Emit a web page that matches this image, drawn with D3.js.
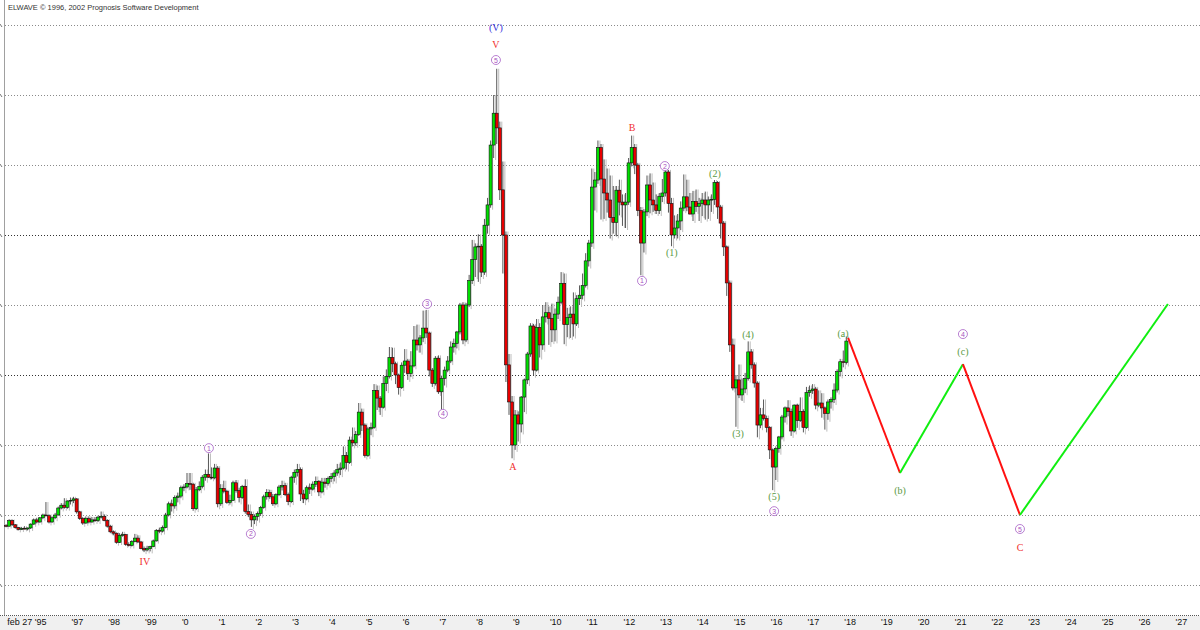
<!DOCTYPE html>
<html><head><meta charset="utf-8">
<script src="https://cdn.jsdelivr.net/npm/d3@7"></script>
<style>body{margin:0;background:#fff}svg{display:block}</style>
</head><body>
<svg id="c" width="1200" height="630"></svg>
<script>
// first candle: March 1995, monthly bars to January 2018
const firstYear = 1995, firstMonthIndex = 2;
const opens = [
17.0,16.8,18.4,17.2,16.4,15.9,16.2,16.0,16.3,17.4,
18.6,18.0,19.2,20.0,19.8,18.0,19.2,20.0,22.0,22.8,22.2,24.0,
24.2,24.6,20.9,19.0,17.7,19.0,18.0,18.6,18.4,19.4,19.6,18.4,
16.8,15.2,14.8,12.2,14.2,14.4,11.6,11.3,12.4,13.4,12.3,10.4,
10.0,10.4,11.0,12.6,15.6,15.4,16.4,20.0,23.2,22.6,25.0,25.4,
27.8,28.0,29.0,28.8,21.8,27.2,28.2,30.8,31.6,30.8,30.6,33.4,
23.2,27.6,26.8,23.6,24.2,29.2,27.0,25.0,28.2,21.0,20.2,18.6,
19.6,20.4,22.2,25.2,26.4,25.2,23.2,25.8,28.0,28.4,25.8,23.8,
30.8,32.2,33.0,26.0,24.6,27.8,27.4,28.8,29.6,26.6,29.4,29.0,
30.4,31.0,32.0,33.0,33.4,37.0,35.0,41.4,40.6,43.0,49.4,45.7,
37.0,44.6,45.0,55.6,53.4,50.8,57.6,59.6,65.0,63.2,60.0,56.4,
62.8,64.0,60.4,62.6,70.0,68.6,70.6,73.4,72.0,61.4,57.6,64.8,
55.2,59.0,61.4,64.0,68.0,69.0,72.3,80.0,70.0,80.0,87.0,93.0,
96.6,96.8,89.4,102.8,108.6,125.7,134.8,130.6,112.9,100.0,62.9,52.3,
40.0,48.6,46.0,53.7,58.6,66.0,74.0,61.4,73.6,68.6,76.6,77.8,
76.2,72.9,77.4,80.8,86.2,74.4,76.4,77.4,74.6,81.8,82.8,85.6,
92.6,97.7,113.7,115.7,125.0,116.0,112.0,110.0,105.0,103.6,112.8,109.4,
108.6,109.4,120.6,125.0,120.0,107.0,97.7,106.6,114.3,110.0,108.6,107.0,
111.0,112.0,118.0,109.0,100.0,102.0,104.0,107.7,110.9,108.0,106.0,109.6,
108.2,109.0,110.0,108.6,110.0,110.2,115.0,108.0,103.4,96.6,86.3,68.6,
56.3,58.6,54.3,56.0,59.0,66.6,62.9,57.7,45.7,48.6,47.6,45.0,
38.6,33.7,39.0,42.3,48.0,50.6,49.6,44.0,51.4,47.0,49.6,45.0,
55.0,55.6,56.0,51.4,52.0,50.6,49.0,52.3,53.0,55.7,61.0,63.8,
63.6];
const highs = [
17.4,18.8,18.7,17.4,16.6,16.6,16.8,16.4,17.6,19.0,
19.2,19.4,20.4,23.7,20.2,19.6,20.6,22.4,23.4,24.8,24.2,25.0,
25.2,24.8,21.2,19.4,19.6,19.6,19.4,19.4,19.8,21.0,20.2,18.8,
17.2,15.6,15.0,14.8,15.2,14.6,12.2,12.8,14.6,14.2,12.6,11.0,
11.2,11.2,13.0,16.0,16.4,17.0,20.6,23.8,24.4,25.6,26.4,28.4,
28.8,32.0,32.0,29.2,28.0,29.6,31.4,33.0,37.6,33.6,34.6,34.0,
28.8,29.8,27.2,25.8,29.8,30.0,27.8,28.6,30.2,23.0,21.0,20.2,
21.0,22.6,25.8,27.4,27.2,26.0,26.2,28.6,29.8,29.2,26.4,31.2,
33.0,34.6,33.6,27.2,28.4,29.0,29.6,31.0,30.0,30.6,30.6,31.0,
32.0,32.8,34.6,35.0,39.6,38.0,42.4,45.0,44.0,52.0,50.4,46.2,
45.2,46.4,57.4,57.0,54.0,59.6,61.6,68.0,67.8,63.8,60.4,63.6,
67.4,64.6,66.8,74.0,74.4,71.4,78.4,78.6,72.4,62.0,65.4,65.6,
59.8,62.4,65.4,69.6,70.4,72.6,80.6,80.8,80.6,88.6,98.6,97.6,
100.2,97.4,104.6,110.6,127.0,140.0,147.5,132.4,121.0,101.0,66.0,54.0,
50.0,49.6,54.0,59.0,66.6,74.8,74.6,76.0,74.8,80.0,80.8,79.6,
80.4,79.0,82.4,89.4,89.0,79.2,79.6,83.6,82.8,85.6,89.0,94.8,
98.6,119.0,118.0,127.0,126.0,121.6,119.0,117.0,114.0,114.0,115.8,111.6,
112.0,122.0,128.4,126.0,120.6,108.0,107.4,117.0,117.6,115.0,111.6,112.0,
116.0,119.2,118.6,110.6,105.6,106.0,109.6,117.3,115.8,112.0,112.6,113.0,
110.6,112.0,112.4,111.0,111.6,115.7,115.4,108.6,104.0,97.0,87.0,70.4,
60.0,63.0,59.0,60.6,69.6,67.4,63.6,58.2,50.6,53.0,48.4,45.4,
39.0,39.6,42.6,48.6,51.0,52.8,50.4,51.6,51.8,53.6,50.2,56.6,
57.0,57.4,56.6,55.6,54.8,51.0,53.0,53.6,57.6,61.6,64.6,67.0,
71.0];
const lows = [
16.5,16.7,16.9,16.1,15.6,15.7,15.9,15.6,16.0,17.2,
17.6,17.8,18.8,19.6,17.6,17.8,18.8,19.8,21.6,21.8,21.8,23.0,
23.4,20.4,18.6,17.2,17.5,17.6,17.8,18.0,18.0,19.0,18.2,16.4,
14.8,14.2,11.8,12.0,13.8,11.2,11.0,11.0,12.2,12.0,10.2,9.4,
9.6,9.6,10.8,12.4,14.8,15.0,16.2,19.6,21.0,21.8,23.6,24.8,
26.8,27.6,27.2,21.2,21.4,26.8,27.6,29.8,30.6,30.2,30.2,22.2,
22.6,26.2,23.2,23.0,24.0,26.4,23.6,24.6,20.4,19.4,16.6,17.4,
18.4,19.8,21.8,24.4,24.6,22.6,22.8,25.4,27.0,25.4,22.8,23.4,
29.2,31.0,24.0,23.4,24.2,26.0,27.0,28.0,25.4,26.2,27.8,28.4,
29.4,29.6,31.2,31.4,33.0,33.0,34.6,39.6,39.8,42.6,44.0,36.4,
36.6,42.8,44.6,50.0,48.6,50.4,55.4,59.0,60.8,57.4,54.4,56.0,
60.6,58.6,59.4,62.2,67.0,66.4,69.4,70.6,59.6,56.6,57.0,54.6,
49.8,57.0,60.8,63.4,66.4,67.6,71.6,68.8,69.4,79.4,86.0,88.0,
86.6,88.0,88.6,100.4,107.8,122.0,126.0,110.0,89.0,58.0,48.6,36.2,
38.6,41.0,43.6,49.4,57.4,65.2,59.8,61.0,65.0,67.2,75.0,68.6,
69.4,69.6,76.0,80.2,68.8,70.8,70.6,71.0,74.0,80.0,81.6,85.0,
91.0,96.6,107.0,114.6,104.4,104.6,106.4,99.0,100.4,99.6,105.6,102.6,
102.0,108.6,119.6,117.4,105.4,88.5,95.0,105.4,106.2,106.6,106.0,106.0,
109.4,111.0,106.4,96.8,99.0,99.0,101.4,106.8,106.8,105.8,104.0,106.6,
104.0,105.4,104.4,104.6,106.6,108.6,104.6,99.0,94.0,82.6,66.6,55.6,
45.2,53.4,52.6,54.8,58.4,61.8,56.4,42.2,44.8,47.0,43.6,36.0,
27.1,30.0,37.8,41.6,46.4,48.2,42.6,43.6,44.9,46.6,43.6,44.6,
53.8,54.6,50.2,50.8,47.8,44.4,47.2,50.4,52.0,55.0,59.6,62.2,
63.0];
const closes = [
16.8,18.4,17.2,16.4,15.9,16.2,16.0,16.3,17.4,18.6,
18.0,19.2,20.0,19.8,18.0,19.2,20.0,22.0,22.8,22.2,24.0,24.2,
24.6,20.9,19.0,17.7,19.0,18.0,18.6,18.4,19.4,19.6,18.4,16.8,
15.2,14.8,12.2,14.2,14.4,11.6,11.3,12.4,13.4,12.3,10.4,10.0,
10.4,11.0,12.6,15.6,15.4,16.4,20.0,23.2,22.6,25.0,25.4,27.8,
28.0,29.0,28.8,21.8,27.2,28.2,30.8,31.6,30.8,30.6,33.4,23.2,
27.6,26.8,23.6,24.2,29.2,27.0,25.0,28.2,21.0,20.2,18.6,19.6,
20.4,22.2,25.2,26.4,25.2,23.2,25.8,28.0,28.4,25.8,23.8,30.8,
32.2,33.0,26.0,24.6,27.8,27.4,28.8,29.6,26.6,29.4,29.0,30.4,
31.0,32.0,33.0,33.4,37.0,35.0,41.4,40.6,43.0,49.4,45.7,37.0,
44.6,45.0,55.6,53.4,50.8,57.6,59.6,65.0,63.2,60.0,56.4,62.8,
64.0,60.4,62.6,70.0,68.6,70.6,73.4,72.0,61.4,57.6,64.8,55.2,
59.0,61.4,64.0,68.0,69.0,72.3,80.0,70.0,80.0,87.0,93.0,96.6,
96.8,89.4,102.8,108.6,125.7,134.8,130.6,112.9,100.0,62.9,52.3,40.0,
48.6,46.0,53.7,58.6,66.0,74.0,61.4,73.6,68.6,76.6,77.8,76.2,
72.9,77.4,80.8,86.2,74.4,76.4,77.4,74.6,81.8,82.8,85.6,92.6,
97.7,113.7,115.7,125.0,116.0,112.0,110.0,105.0,103.6,112.8,109.4,108.6,
109.4,120.6,125.0,120.0,107.0,97.7,106.6,114.3,110.0,108.6,107.0,111.0,
112.0,118.0,109.0,100.0,102.0,104.0,107.7,110.9,108.0,106.0,109.6,108.2,
109.0,110.0,108.6,110.0,110.2,115.0,108.0,103.4,96.6,86.3,68.6,56.3,
58.6,54.3,56.0,59.0,66.6,62.9,57.7,45.7,48.6,47.6,45.0,38.6,
33.7,39.0,42.3,48.0,50.6,49.6,44.0,51.4,47.0,49.6,45.0,55.0,
55.6,56.0,51.4,52.0,50.6,49.0,52.3,53.0,55.7,61.0,63.8,63.6,
69.7];

const tickYears = [1997,1998,1999,2000,2001,2002,2003,2004,2005,2006,2007,2008,2009,2010,2011,2012,2013,2014,2015,2016,2017,2018,2019,2020,2021,2022,2023,2024,2025,2026,2027];
const tickLabels = ["'97","'98","'99","'0","'1","'2","'3","'4","'5","'6","'7","'8","'9","'10","'11","'12","'13","'14","'15","'16","'17","'18","'19","'20","'21","'22","'23","'24","'25","'26","'27"];
const startLabel = "feb 27 '95";
const startLabelYear = 1995.16;
const gridValues = [0,20,40,60,80,100,120,140,160];
const gridStrong = [60,100];

// projected path
const projYears = [2018.09,2019.50,2021.21,2022.76,2026.78];
const projValues = [70.6,32.0,63.1,20.0,80.3];

// wave labels
const waveTexts  = ["(V)","V","5","IV","1","2","3","4","A","B","1","2","(1)","(2)","(3)","(4)","(5)","3","(a)","(b)","4","(c)","5","C"];
const waveKinds  = ["blue","red","circ","red","circ","circ","circ","circ","red","red","circ","circ","green","green","green","green","green","circ","green","green","circ","green","circ","red"];
const waveYears  = [2008.52,2008.52,2008.52,1998.98,2000.72,2001.86,2006.65,2007.08,2008.98,2012.22,2012.49,2013.11,2013.30,2014.47,2015.10,2015.37,2016.08,2016.08,2017.95,2019.50,2021.21,2021.21,2022.76,2022.76];
const waveValues = [159.4,154.3,150.0,6.6,39.1,14.6,80.3,48.9,34.0,130.6,86.9,119.7,94.9,117.7,43.4,71.7,25.4,21.1,72.0,27.1,71.7,66.6,16.0,10.6];

const svg = d3.select('#c');
const x = d3.scaleLinear().domain([1997,2027]).range([72,1176]);
const y = d3.scaleLinear().domain([0,160]).range([585,25]);

svg.append('rect').attr('width',1200).attr('height',630).attr('fill','#fff');

// gridlines
svg.append('g').selectAll('line').data(gridValues).join('line')
  .attr('x1',5).attr('x2',1200).attr('y1',d=>Math.round(y(d))+0.5).attr('y2',d=>Math.round(y(d))+0.5)
  .attr('stroke',d=>gridStrong.includes(d)?'#333':'#8a8a8a').attr('stroke-width',1).attr('stroke-dasharray','1,2');
// clipped axis-label stubs at left edge
svg.append('g').selectAll('line').data(gridValues).join('line')
  .attr('x1',0).attr('x2',2).attr('y1',d=>Math.round(y(d))-1).attr('y2',d=>Math.round(y(d))+2)
  .attr('stroke','#777').attr('stroke-width',1);
svg.append('line').attr('x1',4.5).attr('x2',4.5).attr('y1',0).attr('y2',616).attr('stroke','#a0a0a0');

// candles
const candles = closes.map((c,i)=>({t: firstYear + (firstMonthIndex + i + 0.5)/12, o: opens[i], h: highs[i], l: lows[i], c}));
const g = svg.append('g');
g.selectAll('line.sh').data(candles).join('line').attr('class','sh')
  .attr('x1',d=>x(d.t)+2).attr('x2',d=>x(d.t)+2).attr('y1',d=>y(d.h)).attr('y2',d=>y(d.l)+2)
  .attr('stroke','#bdbdbd').attr('stroke-width',1);
g.selectAll('line.wk').data(candles).join('line').attr('class','wk')
  .attr('x1',d=>x(d.t)).attr('x2',d=>x(d.t)).attr('y1',d=>y(d.h)).attr('y2',d=>y(d.l))
  .attr('stroke','#444').attr('stroke-width',0.9);
g.selectAll('rect').data(candles).join('rect')
  .attr('x',d=>x(d.t)-1.5).attr('width',3)
  .attr('y',d=>y(Math.max(d.o,d.c)))
  .attr('height',d=>Math.max(0.8,Math.abs(y(d.o)-y(d.c))))
  .attr('fill',d=>d.c>=d.o?'#00e000':'#e80000')
  .attr('stroke','#111').attr('stroke-width',0.6);

// projection
const proj = projYears.map((t,i)=>({t,v:projValues[i]}));
svg.append('g').selectAll('line').data(proj.slice(1)).join('line')
  .attr('x1',(d,i)=>x(proj[i].t)).attr('y1',(d,i)=>y(proj[i].v))
  .attr('x2',d=>x(d.t)).attr('y2',d=>y(d.v))
  .attr('stroke',(d,i)=>d.v<proj[i].v?'#ff1010':'#10ee10').attr('stroke-width',2);

// wave labels
const waves = waveTexts.map((s,i)=>({s,k:waveKinds[i],t:waveYears[i],v:waveValues[i]}));
const wl = svg.append('g');
const colors = {blue:'#3333dd', red:'#f03030', green:'#5a9a45', circ:'#a855c0'};
waves.forEach(w=>{
  const cx = x(w.t), cy = y(w.v);
  if (w.k==='circ') {
    wl.append('circle').attr('cx',cx).attr('cy',cy).attr('r',4.5).attr('fill','#fff').attr('stroke','#b070cc').attr('stroke-width',0.9);
    wl.append('text').attr('x',cx).attr('y',cy+2.5).attr('text-anchor','middle')
      .attr('font-family','Liberation Sans, Arial, sans-serif').attr('font-size',7).attr('fill',colors.circ).text(w.s);
  } else {
    wl.append('text').attr('x',cx).attr('y',cy+3.5).attr('text-anchor','middle')
      .attr('font-family','Liberation Serif, Times New Roman, serif').attr('font-size',10).attr('fill',colors[w.k]).text(w.s);
  }
});

// bottom axis band
svg.append('rect').attr('x',0).attr('y',616).attr('width',1200).attr('height',14).attr('fill','#f0f0f0');
svg.append('line').attr('x1',0).attr('x2',1200).attr('y1',615.5).attr('y2',615.5).attr('stroke','#555').attr('stroke-dasharray','1,1');
const ax = svg.append('g').attr('font-family','Liberation Sans, Arial, sans-serif').attr('font-size',9).attr('fill','#111');
ax.append('text').attr('x',x(startLabelYear)+3).attr('y',625).text(startLabel);
ax.selectAll('text.t').data(tickYears).join('text').attr('class','t')
  .attr('x',d=>x(d)-0.5).attr('y',625).text((d,i)=>tickLabels[i]);

// copyright
svg.append('text').attr('x',8).attr('y',10).attr('font-family','Liberation Sans, Arial, sans-serif')
  .attr('font-size',7.5).attr('fill','#333').text('ELWAVE © 1996, 2002 Prognosis Software Development');
</script>
</body></html>
